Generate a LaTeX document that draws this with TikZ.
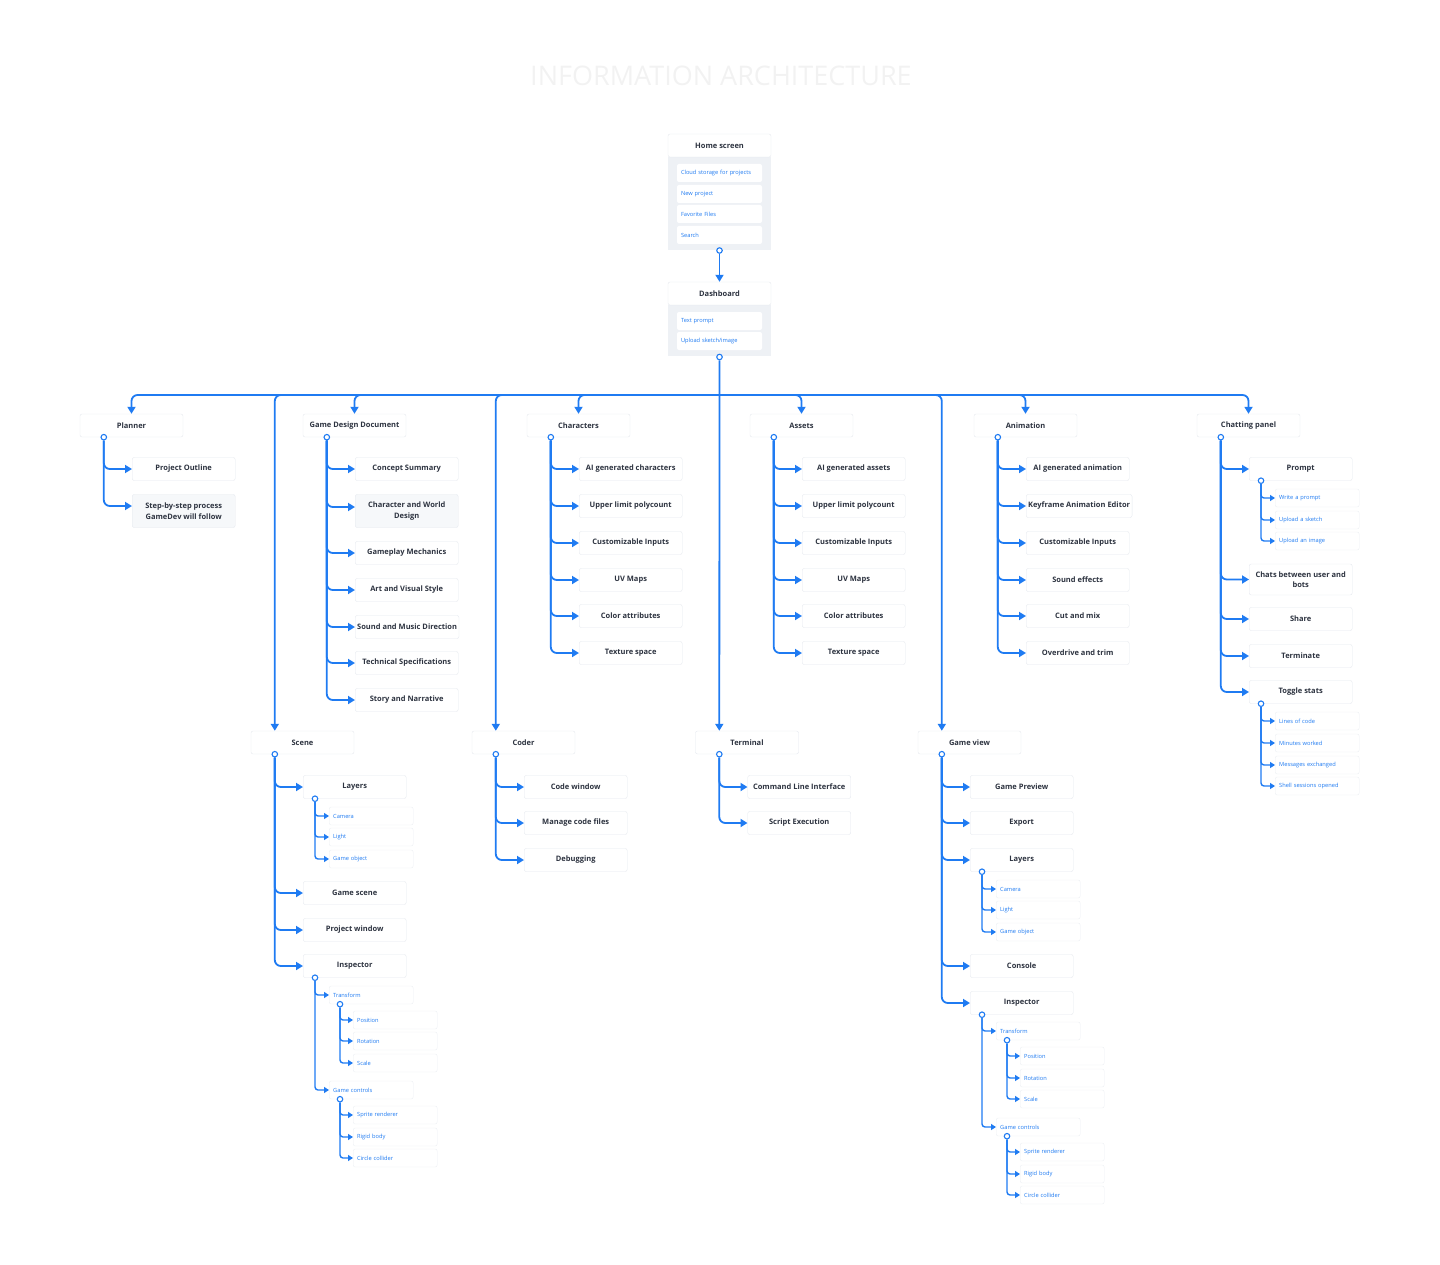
\documentclass[tikz,border=0pt]{standalone}
\usepackage{fontspec}
\setmainfont{Open Sans}
\usetikzlibrary{arrows.meta}
\definecolor{lk}{HTML}{1F7BF2}
\definecolor{tx}{HTML}{2D3340}
\definecolor{bd}{HTML}{E4E8EE}
\definecolor{pn}{HTML}{EEF1F5}
\definecolor{gf}{HTML}{F6F8FA}
\newcommand\hfont{\fontsize{7.5}{10.5}\selectfont\bfseries}
\newcommand\sfont{\fontsize{5.7}{7}\selectfont}
\tikzset{
  item/.style={draw=bd, fill=white, rounded corners=2pt, minimum width=103pt, minimum height=23pt,
    anchor=west, font=\hfont, text=tx, align=center, inner sep=2pt},
  hdr/.style={item, anchor=center},
  twoline/.style={item, fill=gf, minimum height=33pt},
  subbox/.style={draw=bd!70, fill=white, rounded corners=2pt, anchor=west, minimum height=18pt,
    text width=76pt, inner xsep=4pt, inner ysep=0pt, align=left, font=\sfont, text=lk},
  hitem/.style={fill=white, draw=none, rounded corners=2pt, minimum height=18pt,
    text width=77pt, inner xsep=4pt, inner ysep=0pt, align=left, font=\sfont, text=lk},
  panel/.style={fill=pn, draw=none, minimum width=103pt, inner sep=0pt},
  dot/.style={circle, draw=lk, fill=white, line width=1.1pt, minimum size=5.5pt, inner sep=0pt},
  link/.style={draw=lk, line width=1.8pt, rounded corners=6pt, -{Triangle[length=7pt,width=8pt]}},
  slink/.style={draw=lk, line width=1.4pt, rounded corners=3pt, -{Triangle[length=5pt,width=6pt]}},
  title/.style={font=\fontsize{27}{30}\selectfont, text=black!5}
}
% name, dot, left x, y, text
\newcommand\kid[5]{\node[item] (#1) at (#3,#4) {#5};\draw[link] (#2) |- (#1.west);}
\newcommand\sub[5]{\node[subbox] (#1) at (#3,#4) {#5};\draw[slink] (#2) |- (#1.west);}
\begin{document}
\begin{tikzpicture}[x=1pt,y=-1pt]
\useasboundingbox (0,0) rectangle (1440,1265);
\node[title] (title) at (721,76) {INFORMATION ARCHITECTURE};

% Home screen
\node[panel, minimum height=93pt] (hpanel) at (719.5,203.5) {};
\node[hdr] (home) at (719.5,145.5) {Home screen};
\node[hitem] (h1) at (719.5,173) {Cloud storage for projects};
\node[hitem] (h2) at (719.5,194) {New project};
\node[hitem] (h3) at (719.5,214) {Favorite Files};
\node[hitem] (h4) at (719.5,235) {Search};
\node[dot] (hdot) at (719.5,250.5) {};
% Dashboard
\node[panel, minimum height=51pt] (dpanel) at (719.5,330.5) {};
\node[hdr] (dash) at (719.5,293.5) {Dashboard};
\node[hitem] (d1) at (719.5,321) {Text prompt};
\node[hitem] (d2) at (719.5,341) {Upload sketch/image};
\node[dot] (ddot) at (719.5,357) {};
\draw[link] (hdot) -- (dash.north);
\coordinate (bus) at (719.5,395);

% top row headers
\node[hdr] (planner) at (131.5,425.5) {Planner};
\node[hdr] (gdd) at (354.5,425.5) {Game Design Document};
\node[hdr] (chars) at (578.5,425.5) {Characters};
\node[hdr] (assets) at (801.5,425.5) {Assets};
\node[hdr] (anim) at (1025.5,425.5) {Animation};
\node[hdr] (chat) at (1248.5,425.5) {Chatting panel};
\foreach \n in {planner,gdd,chars,assets,anim,chat} \draw[link] (bus) -| (\n.north);

% second row headers
\node[hdr] (scene) at (302.5,742.5) {Scene};
\node[hdr] (coder) at (523.5,742.5) {Coder};
\node[hdr] (term) at (747,742.5) {Terminal};
\node[hdr] (gview) at (969.5,742.5) {Game view};
\draw[link] (bus) -| ([xshift=24pt]scene.north west);
\draw[link] (bus) -| ([xshift=24pt]coder.north west);
\draw[link] (ddot) -- ([xshift=24pt]term.north west);
\draw[link] (bus) -| ([xshift=24pt]gview.north west);

% dots
\foreach \n in {planner,gdd,chars,assets,anim,chat,scene,coder,term,gview}
  \node[dot] (\n-d) at ([xshift=24pt]\n.south west) {};

% Planner
\kid{po}{planner-d}{132}{469}{Project Outline}
\node[twoline] (sbs) at (132,511) {Step-by-step process\\GameDev will follow};
\draw[link] (planner-d) |- ([yshift=5pt]sbs.west);

% GDD
\kid{g1}{gdd-d}{355}{469}{Concept Summary}
\node[twoline] (g2) at (355,511) {Character and World\\Design};
\draw[link] (gdd-d) |- ([yshift=4pt]g2.west);
\kid{g3}{gdd-d}{355}{553}{Gameplay Mechanics}
\kid{g4}{gdd-d}{355}{590}{Art and Visual Style}
\kid{g5}{gdd-d}{355}{627}{Sound and Music Direction}
\kid{g6}{gdd-d}{355}{663}{Technical Specifications}
\kid{g7}{gdd-d}{355}{700}{Story and Narrative}

% Characters
\kid{c1}{chars-d}{579}{469}{AI generated characters}
\kid{c2}{chars-d}{579}{506}{Upper limit polycount}
\kid{c3}{chars-d}{579}{543}{Customizable Inputs}
\kid{c4}{chars-d}{579}{580}{UV Maps}
\kid{c5}{chars-d}{579}{616}{Color attributes}
\kid{c6}{chars-d}{579}{653}{Texture space}

% Assets
\kid{a1}{assets-d}{802}{469}{AI generated assets}
\kid{a2}{assets-d}{802}{506}{Upper limit polycount}
\kid{a3}{assets-d}{802}{543}{Customizable Inputs}
\kid{a4}{assets-d}{802}{580}{UV Maps}
\kid{a5}{assets-d}{802}{616}{Color attributes}
\kid{a6}{assets-d}{802}{653}{Texture space}

% Animation
\kid{n1}{anim-d}{1026}{469}{AI generated animation}
\kid{n2}{anim-d}{1026}{506}{Keyframe Animation Editor}
\kid{n3}{anim-d}{1026}{543}{Customizable Inputs}
\kid{n4}{anim-d}{1026}{580}{Sound effects}
\kid{n5}{anim-d}{1026}{616}{Cut and mix}
\kid{n6}{anim-d}{1026}{653}{Overdrive and trim}

% Chatting panel
\kid{prompt}{chat-d}{1249}{469}{Prompt}
\node[item, minimum height=31pt] (cbots) at (1249,579.5) {Chats between user and\\bots};
\draw[link] (chat-d) |- (cbots.west);
\kid{share}{chat-d}{1249}{619}{Share}
\kid{termn}{chat-d}{1249}{656}{Terminate}
\kid{toggle}{chat-d}{1249}{692}{Toggle stats}
\node[dot] (prompt-d) at ([xshift=12pt]prompt.south west) {};
\sub{p1}{prompt-d}{1275}{498}{Write a prompt}
\sub{p2}{prompt-d}{1275}{520}{Upload a sketch}
\sub{p3}{prompt-d}{1275}{541}{Upload an image}
\node[dot] (toggle-d) at ([xshift=12pt]toggle.south west) {};
\sub{t1}{toggle-d}{1275}{721}{Lines of code}
\sub{t2}{toggle-d}{1275}{743}{Minutes worked}
\sub{t3}{toggle-d}{1275}{765}{Messages exchanged}
\sub{t4}{toggle-d}{1275}{786}{Shell sessions opened}

% Scene
\kid{slayers}{scene-d}{303}{787}{Layers}
\kid{sgame}{scene-d}{303}{893}{Game scene}
\kid{sproj}{scene-d}{303}{930}{Project window}
\kid{sinsp}{scene-d}{303}{966}{Inspector}
\node[dot] (slayers-d) at ([xshift=12pt]slayers.south west) {};
\sub{sl1}{slayers-d}{329}{816}{Camera}
\sub{sl2}{slayers-d}{329}{837}{Light}
\sub{sl3}{slayers-d}{329}{859}{Game object}
\node[dot] (sinsp-d) at ([xshift=12pt]sinsp.south west) {};
\sub{strans}{sinsp-d}{329}{995}{Transform}
\sub{sctrl}{sinsp-d}{329}{1090}{Game controls}
\node[dot] (strans-d) at ([xshift=11pt]strans.south west) {};
\sub{st1}{strans-d}{353}{1020}{Position}
\sub{st2}{strans-d}{353}{1041}{Rotation}
\sub{st3}{strans-d}{353}{1063}{Scale}
\node[dot] (sctrl-d) at ([xshift=11pt]sctrl.south west) {};
\sub{sc1}{sctrl-d}{353}{1115}{Sprite renderer}
\sub{sc2}{sctrl-d}{353}{1137}{Rigid body}
\sub{sc3}{sctrl-d}{353}{1158}{Circle collider}

% Coder
\kid{k1}{coder-d}{524}{787}{Code window}
\kid{k2}{coder-d}{524}{823}{Manage code files}
\kid{k3}{coder-d}{524}{860}{Debugging}

% Terminal
\kid{r1}{term-d}{747.5}{787}{Command Line Interface}
\kid{r2}{term-d}{747.5}{823}{Script Execution}

% Game view
\kid{gprev}{gview-d}{970}{787}{Game Preview}
\kid{gexp}{gview-d}{970}{823}{Export}
\kid{glayers}{gview-d}{970}{860}{Layers}
\kid{gcons}{gview-d}{970}{966}{Console}
\kid{ginsp}{gview-d}{970}{1003}{Inspector}
\node[dot] (glayers-d) at ([xshift=12pt]glayers.south west) {};
\sub{gl1}{glayers-d}{996}{889}{Camera}
\sub{gl2}{glayers-d}{996}{910}{Light}
\sub{gl3}{glayers-d}{996}{932}{Game object}
\node[dot] (ginsp-d) at ([xshift=12pt]ginsp.south west) {};
\sub{gtrans}{ginsp-d}{996}{1031}{Transform}
\sub{gctrl}{ginsp-d}{996}{1127}{Game controls}
\node[dot] (gtrans-d) at ([xshift=11pt]gtrans.south west) {};
\sub{gt1}{gtrans-d}{1020}{1056}{Position}
\sub{gt2}{gtrans-d}{1020}{1078}{Rotation}
\sub{gt3}{gtrans-d}{1020}{1099}{Scale}
\node[dot] (gctrl-d) at ([xshift=11pt]gctrl.south west) {};
\sub{gc1}{gctrl-d}{1020}{1152}{Sprite renderer}
\sub{gc2}{gctrl-d}{1020}{1174}{Rigid body}
\sub{gc3}{gctrl-d}{1020}{1195}{Circle collider}
\end{tikzpicture}
\end{document}
